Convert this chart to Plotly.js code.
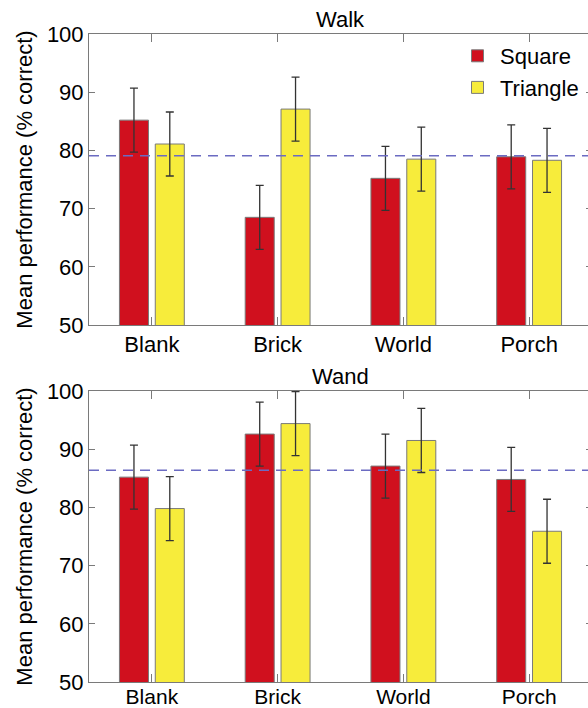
<!DOCTYPE html>
<html>
<head>
<meta charset="utf-8">
<script src="https://cdn.plot.ly/plotly-3.0.1.min.js"></script>
<style>
html,body{margin:0;padding:0;overflow:hidden;background:#fff;}
#chart{width:600px;height:708px;}
</style>
</head>
<body>
<div id="chart"></div>
<script>
var categories = ["Blank", "Brick", "World", "Porch"];
var walkSquare = [85.2, 68.5, 75.2, 78.9];
var walkSquareErr = [5.5, 5.5, 5.5, 5.5];
var walkTriangle = [81.1, 87.1, 78.5, 78.3];
var walkTriangleErr = [5.5, 5.5, 5.5, 5.5];
var wandSquare = [85.2, 92.6, 87.1, 84.8];
var wandSquareErr = [5.5, 5.5, 5.5, 5.5];
var wandTriangle = [79.8, 94.4, 91.5, 75.9];
var wandTriangleErr = [5.5, 5.5, 5.5, 5.5];
var chanceLevel = [79.1, 86.4];
var panelTitles = ["Walk", "Wand"];
var seriesNames = ["Square", "Triangle"];
var yTicks = [50, 60, 70, 80, 90, 100];

var red = "#D0101E", yellow = "#F7EC3B";
var FONT = "Liberation Sans, Arial, Helvetica, sans-serif";

function barTrace(vals, errs, name, color, xa, ya, showLeg) {
  return {
    type: "bar", x: categories, y: vals, name: name,
    xaxis: xa, yaxis: ya, legendgroup: name, showlegend: showLeg,
    marker: {color: color, line: {color: "#7a7a7a", width: 1}},
    error_y: {type: "data", array: errs, visible: true, color: "#333333", thickness: 1.3, width: 4}
  };
}

var data = [
  barTrace(walkSquare, walkSquareErr, seriesNames[0], red, "x", "y", true),
  barTrace(walkTriangle, walkTriangleErr, seriesNames[1], yellow, "x", "y", true),
  barTrace(wandSquare, wandSquareErr, seriesNames[0], red, "x2", "y2", false),
  barTrace(wandTriangle, wandTriangleErr, seriesNames[1], yellow, "x2", "y2", false)
];

var W = 600, H = 708;
function py(px){ return 1 - px / H; }

var xCommon = {
  type: "category", range: [-0.5, 3.5], showgrid: false, zeroline: false,
  showline: true, linecolor: "#7a7a7a", linewidth: 1, mirror: "ticks",
  ticks: "inside", ticklen: 8, tickcolor: "#7a7a7a", tickwidth: 1,
  tickfont: {family: FONT, size: 22, color: "#000"}, fixedrange: true
};
var yCommon = {
  range: [50, 100], tickvals: yTicks, showgrid: false, zeroline: false,
  showline: true, linecolor: "#7a7a7a", linewidth: 1, mirror: "ticks",
  ticks: "inside", ticklen: 6, tickcolor: "#7a7a7a", tickwidth: 1,
  tickfont: {family: FONT, size: 22, color: "#000"},
  title: {text: "Mean performance (% correct)", font: {family: FONT, size: 22, color: "#000"}, standoff: 8},
  fixedrange: true
};
var xDom = [89 / W, 592 / W];

var layout = {
  width: W, height: H,
  margin: {l: 0, r: 0, t: 0, b: 0},
  paper_bgcolor: "#fff", plot_bgcolor: "#fff",
  barmode: "group", bargap: 0.43, bargroupgap: 0.19,
  font: {family: FONT, size: 22, color: "#000"},
  xaxis: Object.assign({}, xCommon, {domain: xDom, anchor: "y"}),
  yaxis: Object.assign({}, yCommon, {domain: [py(325), py(34)], anchor: "x"}),
  xaxis2: Object.assign({}, xCommon, {domain: xDom, anchor: "y2", ticklabelstandoff: -4,
    tickfont: {family: FONT, size: 21, color: "#000"}}),
  yaxis2: Object.assign({}, yCommon, {domain: [py(682), py(391)], anchor: "x2"}),
  showlegend: true,
  legend: {
    x: 455 / W, xanchor: "left", y: py(35), yanchor: "top",
    bgcolor: "rgba(0,0,0,0)", font: {family: FONT, size: 22, color: "#000"},
    tracegroupgap: 0, itemwidth: 35
  },
  shapes: [
    {type: "line", xref: "x domain", yref: "y", x0: 0, x1: 1, y0: chanceLevel[0], y1: chanceLevel[0],
     line: {color: "#6b6bc2", width: 1.5, dash: "10px,7px"}},
    {type: "line", xref: "x2 domain", yref: "y2", x0: 0, x1: 1, y0: chanceLevel[1], y1: chanceLevel[1],
     line: {color: "#6b6bc2", width: 1.5, dash: "10px,7px"}}
  ],
  annotations: [
    {text: panelTitles[0], xref: "x domain", yref: "paper", x: 0.5, y: py(20), yanchor: "middle",
     showarrow: false, font: {family: FONT, size: 22, color: "#000"}},
    {text: panelTitles[1], xref: "x2 domain", yref: "paper", x: 0.5, y: py(376), yanchor: "middle",
     showarrow: false, font: {family: FONT, size: 22, color: "#000"}}
  ]
};

Plotly.newPlot("chart", data, layout, {displayModeBar: false, staticPlot: true});
</script>
</body>
</html>
